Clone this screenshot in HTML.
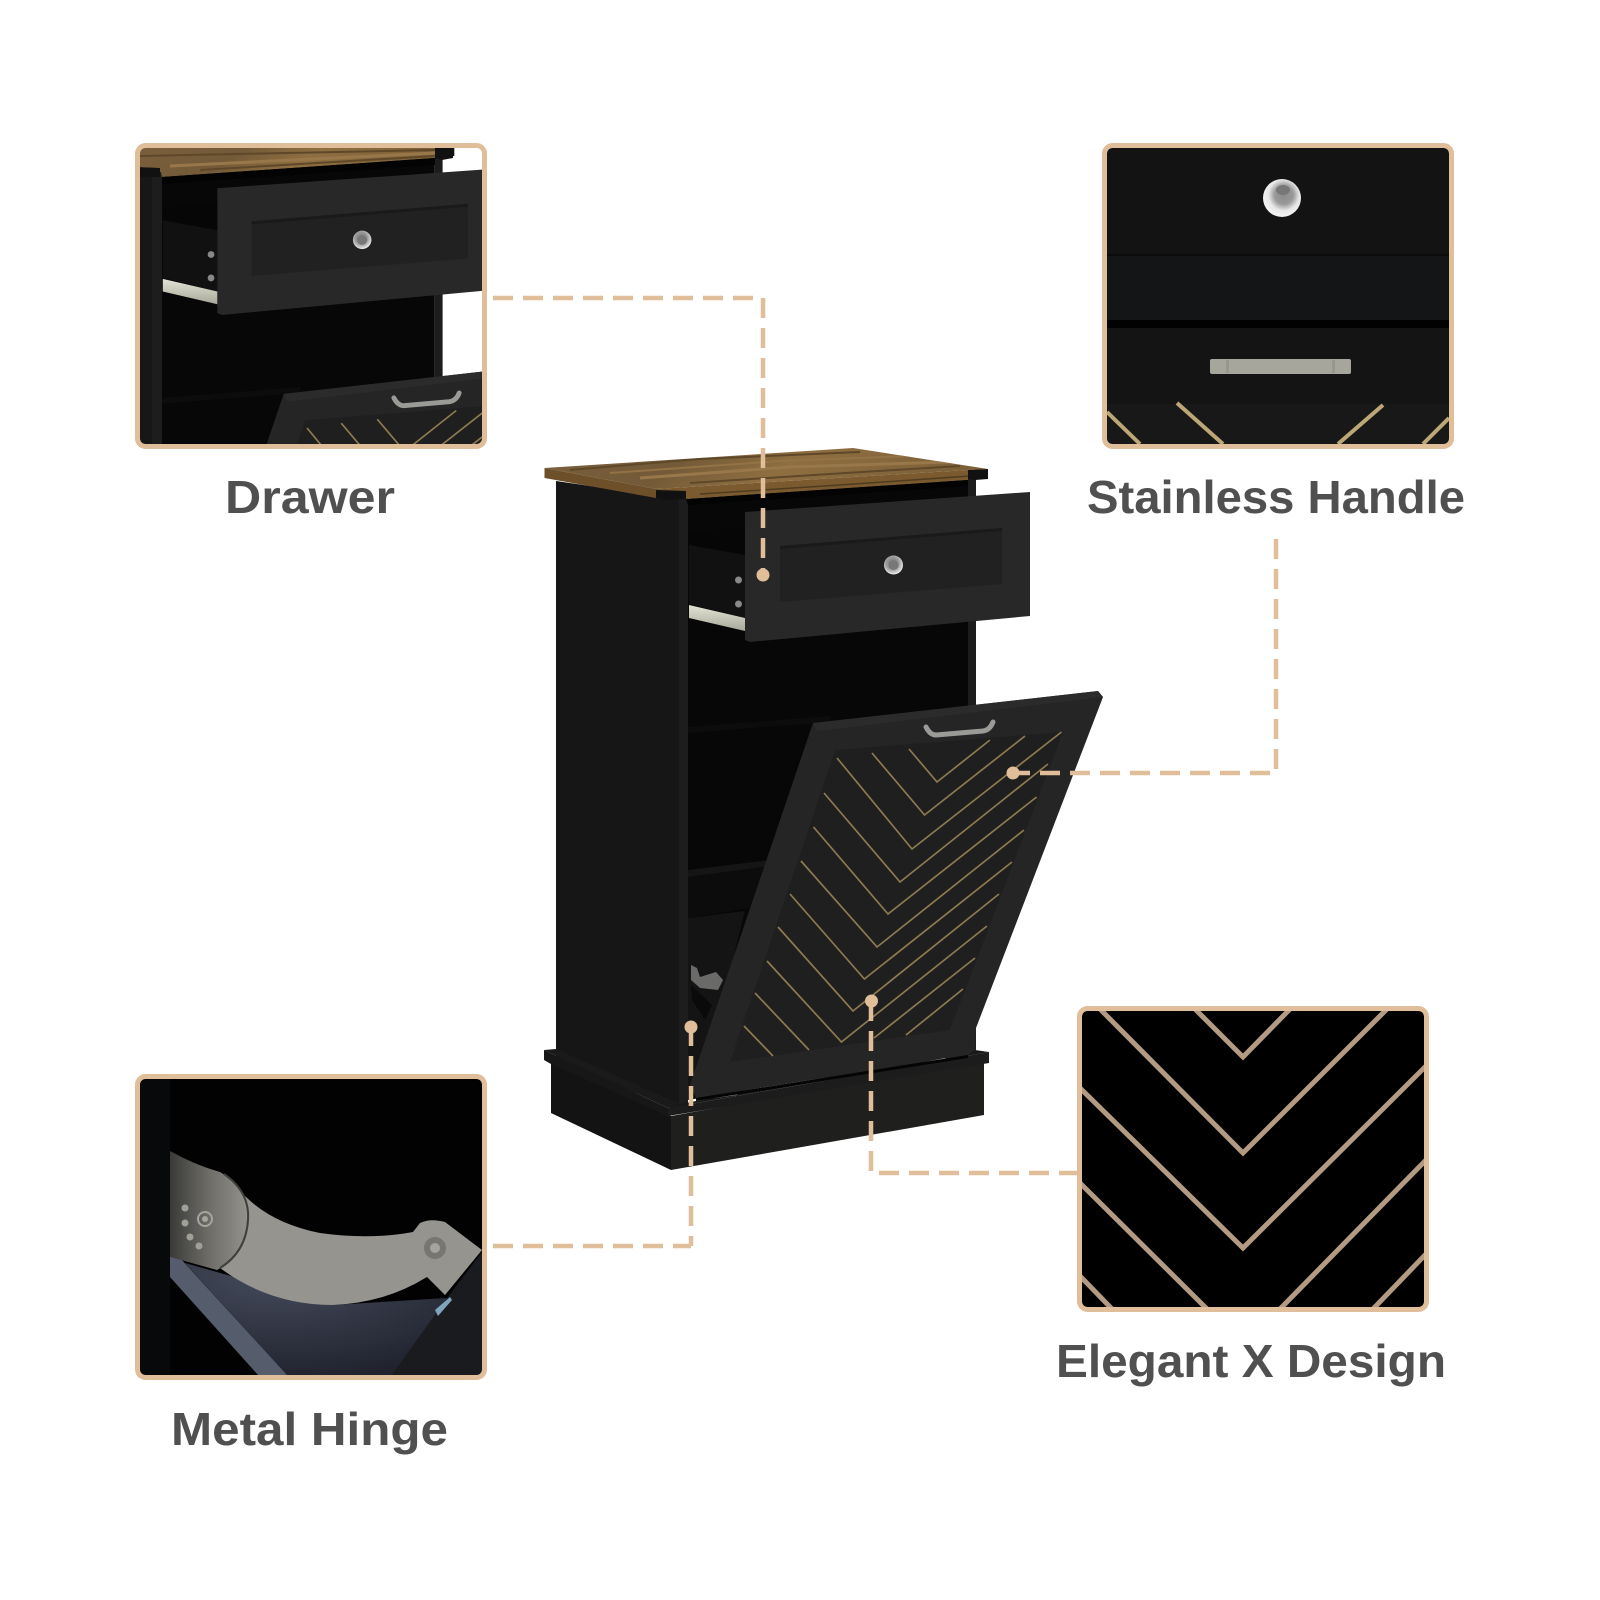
<!DOCTYPE html>
<html><head><meta charset="utf-8"><title>Cabinet features</title>
<style>html,body{margin:0;padding:0;background:#fff}svg{display:block}text{font-family:"Liberation Sans",sans-serif;font-weight:700;fill:#505050;font-size:46px}</style>
</head><body>
<svg xmlns="http://www.w3.org/2000/svg" width="1600" height="1600" viewBox="0 0 1600 1600">
<defs>
<linearGradient id="wood" x1="0" y1="0" x2="1" y2="0.15"><stop offset="0" stop-color="#7a5f3c"/><stop offset=".35" stop-color="#735a38"/><stop offset=".6" stop-color="#8f6f41"/><stop offset="1" stop-color="#7d6038"/></linearGradient>
<linearGradient id="slide" x1="0" y1="0" x2="0" y2="1"><stop offset="0" stop-color="#e4e4d6"/><stop offset="1" stop-color="#a8a89a"/></linearGradient>
<radialGradient id="knob" cx=".45" cy=".4" r=".6"><stop offset="0" stop-color="#777"/><stop offset=".55" stop-color="#999"/><stop offset="1" stop-color="#eee"/></radialGradient>
<radialGradient id="chrome" cx=".55" cy=".42" r=".55"><stop offset="0" stop-color="#8a8a8a"/><stop offset=".45" stop-color="#9a9a9a"/><stop offset=".75" stop-color="#e8e8e8"/><stop offset="1" stop-color="#f2f2f2"/></radialGradient>
<linearGradient id="hing" x1="0" y1="0" x2="1" y2="0"><stop offset="0" stop-color="#3a3a38"/><stop offset=".5" stop-color="#6e6d68"/><stop offset="1" stop-color="#93928c"/></linearGradient>
<radialGradient id="blue" cx=".35" cy=".1" r=".95"><stop offset="0" stop-color="#454b5c"/><stop offset="1" stop-color="#20232e"/></radialGradient>
<clipPath id="c1"><rect x="140" y="148" width="342" height="296" rx="5"/></clipPath>
<clipPath id="c2"><rect x="1107" y="148" width="342" height="296" rx="5"/></clipPath>
<clipPath id="c3"><rect x="140" y="1079" width="342" height="296" rx="5"/></clipPath>
<clipPath id="c4"><rect x="1082" y="1011" width="342" height="296" rx="5"/></clipPath>
<clipPath id="cw"><polygon points="544.5,468 853,448 988,469 968,480 686,499 656,498 544.5,478"/></clipPath>
<clipPath id="cw2"><polygon points="140,148 435,148 435,158 162,177 160,168 140,167"/></clipPath>
</defs>

<g id="cab">
  <!-- plinth -->
  <polygon points="551,1060 671,1116 671,1170 551,1113" fill="#131313"/>
  <polygon points="671,1116 984,1060 984,1115 671,1170" fill="#1f1f1e"/>
  <!-- carcass -->
  <polygon points="556,481 679,499 679,1112 556,1058" fill="#161616"/>
  <rect x="679" y="495" width="9" height="617" fill="#1d1d1d"/>
  <polygon points="688,499 968,478 968,1052 688,1100" fill="#070707"/>
  <polygon points="968,476 976,476 976,1050 968,1055" fill="#1c1c1c"/>
  <polygon points="688,727 830,716 830,722 688,733" fill="#0c0c0c"/>
  <polygon points="688,870 770,860 770,866 688,877" fill="#151515"/>
  <polygon points="688,877 770,866 770,905 688,918" fill="#0c0c0c"/>
  <polygon points="688,918 745,911 700,1090 688,1090" fill="#141414"/>
  <polygon points="691,965 697,968 700,977 716,972 723,980 718,990 700,988 691,980" fill="#6a6a68"/>
  <polygon points="691,985 712,1005 705,1020 692,1000" fill="#0a0a0a"/>
  <!-- moulding -->
  <polygon points="544,1050 556,1049 680,1104 668,1108" fill="#1a1a1a"/>
  <polygon points="544,1050 668,1108 668,1116 551,1064 544,1060" fill="#171717"/>
  <polygon points="668,1108 989,1052 989,1063 668,1116" fill="#1c1c1c"/>
  <polygon points="680,1104 975,1050 989,1052 668,1108" fill="#181818"/>
  <!-- drawer -->
  <polygon points="689,532 745,528 745,555 689,545" fill="#060606"/>
  <polygon points="689,545 745,555 745,618 689,604" fill="#111"/>
  <polygon points="689,605 745,618 745,631 689,618" fill="url(#slide)"/>
  <circle cx="738.5" cy="580" r="3.5" fill="#888"/><circle cx="738.5" cy="604" r="3.5" fill="#888"/>
  <polygon points="745,512 1030,492 1030,616 750,642 745,640" fill="#282828"/>
  <polygon points="780,546 1002,528 1002,584 780,602" fill="#212121"/>
  <polygon points="780,546 1002,528 1002,531 780,549" fill="#1a1a1a"/>
  <circle cx="893.5" cy="565" r="9.5" fill="url(#knob)"/>
  <circle cx="893.5" cy="565" r="5" fill="#777"/>
  <!-- top -->
  <polygon points="544.5,468 853,448 988,469 968,470 656,489" fill="url(#wood)"/>
  <polygon points="544.5,468 656,489 656,498 544.5,478" fill="#6d4f2a"/>
  <polygon points="656,489 968,470 968,480 686,499 656,498" fill="#7a5a2e"/>
  <g clip-path="url(#cw)" fill="none">
    <polyline points="570,470 700,459 860,452" stroke="#5e4829" stroke-width="2"/>
    <polyline points="640,478 790,467 950,462" stroke="#98784a" stroke-width="3"/>
    <polyline points="610,473 780,461 910,456" stroke="#937345" stroke-width="2"/>
    <polyline points="690,483 830,474 960,466" stroke="#5e4829" stroke-width="2"/>
    <polyline points="700,494 840,485 970,476" stroke="#4f3b20" stroke-width="1.5"/>
  </g>
  <polygon points="656,490 686,491 686,499 665,500 656,498" fill="#111"/>
  <polygon points="968,470 988,469 988,479 975,480 968,479" fill="#111"/>
  <polygon points="686,499 968,480 968,486 688,505" fill="#030303"/>
  <!-- door -->
  <polygon points="813,723 1098,691 1103,697 976,1028 975,1050 968,1055 696,1098 690,1085" fill="#252525"/>
  <polygon points="813,723 1098,691 1103,697 817,731" fill="#2b2b2b"/>
  <polygon points="835,750 1063,732 950,1030 730,1062" fill="#1f1f1f"/>
  <g stroke="#8d7a52" stroke-width="1.7" fill="none">
    <polyline points="909,749 937,782 990,740"/>
    <polyline points="872,753 924.5,815 1025,736"/>
    <polyline points="837,758 912,849 1061.5,732"/>
    <polyline points="824,793 900,882 1048,764"/>
    <polyline points="813.5,827 888,914 1036.6,797"/>
    <polyline points="801,861 877,947 1024,830"/>
    <polyline points="790,894 864.4,979 1012,862"/>
    <polyline points="778,927 853,1011 999,894"/>
    <polyline points="767,961 841.4,1042 987,926"/>
    <line x1="755" y1="993" x2="809" y2="1050"/>
    <line x1="744" y1="1026" x2="773" y2="1056"/>
    <line x1="975" y1="958" x2="874" y2="1038"/>
    <line x1="963" y1="989" x2="906" y2="1035"/>
  </g>
  <path d="M926 727 Q930 735 936 735 L983 731 Q990 730 993 722" stroke="#9a9a96" stroke-width="5" fill="none" stroke-linecap="round"/>
  <line x1="715" y1="1097" x2="737" y2="1094" stroke="#aaa" stroke-width="2"/>
  <line x1="924.5" y1="1063" x2="945.5" y2="1059" stroke="#aaa" stroke-width="2"/>
  <polygon points="696,1098 968,1055 968,1058 696,1101" fill="#050505"/>
</g>

<!-- Box 1 -->
<rect x="140" y="148" width="342" height="296" fill="#fff"/>
<g clip-path="url(#c1)">
  <use href="#cab" transform="matrix(.975 0 0 .975 -509 -311)"/>
  <rect x="140" y="172" width="12" height="272" fill="#171717"/>
  <rect x="152" y="172" width="10" height="272" fill="#1d1d1d"/>
  <polygon points="140,148 435,148 435,158 162,177 160,168 140,167" fill="url(#wood)"/>
  <g clip-path="url(#cw2)" fill="none">
    <line x1="140" y1="156" x2="435" y2="150" stroke="#5e4829" stroke-width="2"/>
    <line x1="170" y1="166" x2="435" y2="153" stroke="#98784a" stroke-width="3"/>
    <line x1="200" y1="170" x2="435" y2="156" stroke="#5e4829" stroke-width="2"/>
  </g>
  <polygon points="140,168 160,168 160,177 140,177" fill="#111"/>
  <polygon points="435,148 453,148 453,158 442,160 435,158" fill="#111"/>
  <polygon points="162,177 435,158 435,165 162,184" fill="#030303"/>
</g>
<rect x="137.5" y="145.5" width="347" height="301" rx="8" fill="none" stroke="#dfbe99" stroke-width="5"/>

<!-- Box 2 -->
<g clip-path="url(#c2)">
  <rect x="1107" y="148" width="342" height="296" fill="#131313"/>
  <rect x="1107" y="255" width="342" height="65" fill="#141516"/>
  <rect x="1107" y="254" width="342" height="2" fill="#0b0b0b"/>
  <rect x="1107" y="320" width="342" height="8" fill="#020202"/>
  <rect x="1107" y="328" width="342" height="76" fill="#141414"/>
  <rect x="1107" y="404" width="342" height="40" fill="#181818"/>
  <g stroke="#bda777" stroke-width="4" fill="none">
    <line x1="1107" y1="412" x2="1140" y2="444"/>
    <line x1="1177" y1="403" x2="1223" y2="444"/>
    <line x1="1383" y1="405" x2="1338" y2="444"/>
    <line x1="1449" y1="418" x2="1423" y2="444"/>
  </g>
  <circle cx="1282" cy="198" r="19" fill="url(#chrome)"/>
  <ellipse cx="1283" cy="190" rx="7" ry="5" fill="#777"/>
  <rect x="1210" y="359" width="141" height="15" rx="2" fill="#a6a69c"/>
  <rect x="1226" y="360" width="3" height="13" fill="#97978d"/>
  <rect x="1332" y="360" width="3" height="13" fill="#97978d"/>
</g>
<rect x="1104.5" y="145.5" width="347" height="301" rx="8" fill="none" stroke="#dfbe99" stroke-width="5"/>

<!-- Box 3 hinge -->
<g clip-path="url(#c3)">
  <rect x="140" y="1079" width="342" height="296" fill="#020203"/>
  <rect x="140" y="1079" width="30" height="296" fill="#07090b"/>
  <polygon points="482,1252 447,1298 392,1375 482,1375" fill="#1a1b1f"/>
  <polygon points="185,1263 333,1305 447,1298 392,1375 287,1375" fill="url(#blue)"/>
  <polygon points="170,1247 287,1375 258,1375 170,1277" fill="#555c6c"/>
  <polygon points="435,1310 450,1297 452,1300 438,1316" fill="#7fa4bc"/>
  <path d="M237 1187 Q265 1222 320 1233 Q370 1240 413 1232 L420 1223 Q430 1218 445 1222 L482 1250 L445 1295 L427 1277 Q385 1303 333 1305 Q270 1305 220 1268Z" fill="#95948e"/>
  <path d="M170 1151 Q195 1165 220 1172 Q250 1190 248 1220 Q246 1255 217 1270 L170 1257Z" fill="url(#hing)"/>
  <path d="M224 1174 Q250 1192 248 1220 Q246 1252 220 1268" fill="none" stroke="#3f3f3c" stroke-width="2"/>
  <circle cx="435" cy="1248" r="11" fill="#77766f"/><circle cx="435" cy="1248" r="5" fill="#a5a49d"/>
  <g fill="#a09f98"><circle cx="185" cy="1208" r="3.5"/><circle cx="185" cy="1223" r="3.5"/><circle cx="190" cy="1237" r="3.5"/><circle cx="199" cy="1246" r="3.5"/></g>
  <circle cx="205" cy="1219" r="7" fill="none" stroke="#a5a49d" stroke-width="2"/><circle cx="205" cy="1219" r="3" fill="#a5a49d"/>
</g>
<rect x="137.5" y="1076.5" width="347" height="301" rx="8" fill="none" stroke="#dfbe99" stroke-width="5"/>

<!-- Box 4 chevrons -->
<g clip-path="url(#c4)">
  <rect x="1082" y="1011" width="342" height="296" fill="#000"/>
  <g stroke="#b39a82" stroke-width="5" fill="none">
    <polyline points="1195,1009 1243,1057 1290,1009"/>
    <polyline points="1100,1009 1243,1153 1387,1009"/>
    <polyline points="1080,1088 1243,1248 1426,1066"/>
    <line x1="1080" y1="1183" x2="1207" y2="1309"/>
    <line x1="1426" y1="1160" x2="1280" y2="1309"/>
    <line x1="1080" y1="1276" x2="1112" y2="1309"/>
    <line x1="1426" y1="1254" x2="1373" y2="1309"/>
  </g>
</g>
<rect x="1079.5" y="1008.5" width="347" height="301" rx="8" fill="none" stroke="#dfbe99" stroke-width="5"/>

<!-- Connectors -->
<g stroke="#dfbe99" stroke-width="4.5" fill="none" stroke-dasharray="20 10">
  <path d="M493 298 H763 V574"/>
  <path d="M1276 539 V773 H1013"/>
  <path d="M871 1001 V1173 H1077"/>
  <path d="M691 1026 V1246"/>
  <path d="M493 1246 H691"/>
</g>
<g fill="#dfbe99">
  <circle cx="763" cy="575" r="6.5"/>
  <circle cx="1013" cy="773" r="6.5"/>
  <circle cx="871.5" cy="1001" r="6.5"/>
  <circle cx="691" cy="1027" r="6.5"/>
</g>

<!-- Labels -->
<text x="225" y="513" textLength="170" lengthAdjust="spacingAndGlyphs">Drawer</text>
<text x="1087" y="513" textLength="378" lengthAdjust="spacingAndGlyphs">Stainless Handle</text>
<text x="171" y="1445" textLength="277" lengthAdjust="spacingAndGlyphs">Metal Hinge</text>
<text x="1056" y="1377" textLength="390" lengthAdjust="spacingAndGlyphs">Elegant X Design</text>
</svg>
</body></html>
